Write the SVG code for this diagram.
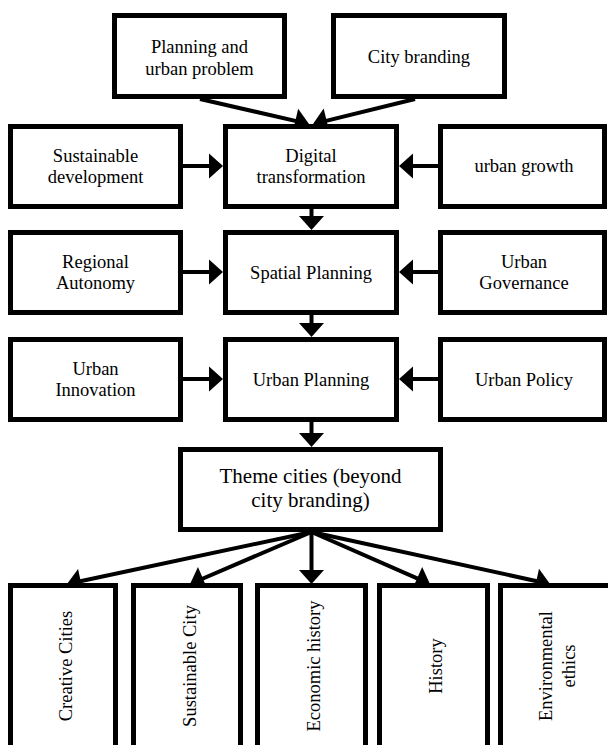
<svg xmlns="http://www.w3.org/2000/svg" width="608" height="745" viewBox="0 0 608 745">
<style>
.box{fill:#fff;stroke:#000;stroke-width:5}
.t{font-family:"Liberation Serif","Times New Roman",serif;font-size:18.5px;fill:#000;text-anchor:middle}
.tb{font-family:"Liberation Serif","Times New Roman",serif;font-size:21px;fill:#000;text-anchor:middle}
.c{stroke:#000;stroke-width:4;fill:none;marker-end:url(#ah)}
</style>
<defs>
<marker id="ah" markerUnits="userSpaceOnUse" markerWidth="14" markerHeight="25" refX="10" refY="12.5" orient="auto" overflow="visible">
<path d="M0,0 L14,12.5 L0,25 z" fill="#000"/>
</marker>
</defs>
<rect width="608" height="745" fill="#fff"/>
<g id="connectors">
<line class="c" x1="200" y1="99" x2="305.1" y2="123.1"/>
<line class="c" x1="415" y1="99" x2="316.9" y2="123.1"/>
<line class="c" x1="183" y1="166" x2="219" y2="166"/>
<line class="c" x1="438" y1="166" x2="403" y2="166"/>
<line class="c" x1="311.5" y1="209" x2="311.5" y2="226"/>
<line class="c" x1="183" y1="272" x2="219" y2="272"/>
<line class="c" x1="438" y1="272" x2="403" y2="272"/>
<line class="c" x1="311.5" y1="315" x2="311.5" y2="333"/>
<line class="c" x1="183" y1="379" x2="219" y2="379"/>
<line class="c" x1="438" y1="379" x2="403" y2="379"/>
<line class="c" x1="311.5" y1="422" x2="311.5" y2="443"/>
<line class="c" x1="311.5" y1="532" x2="70.9" y2="583.2"/>
<line class="c" x1="311.5" y1="532" x2="193.7" y2="582.5"/>
<line class="c" x1="311.5" y1="532" x2="311.5" y2="580"/>
<line class="c" x1="311.5" y1="532" x2="426.3" y2="582.4"/>
<line class="c" x1="311.5" y1="532" x2="546.1" y2="583.2"/>
</g>
<g id="planning-urban-problem"><rect class="box" x="114.5" y="15.5" width="170" height="81"/>
<text class="t" x="199.5" y="53">Planning and</text><text class="t" x="199.5" y="75">urban problem</text></g>
<g id="city-branding"><rect class="box" x="333.5" y="15.5" width="171" height="81"/>
<text class="t" x="419" y="63">City branding</text></g>
<g id="sustainable-development"><rect class="box" x="10.5" y="126.5" width="170" height="80"/>
<text class="t" x="95.5" y="162">Sustainable</text><text class="t" x="95.5" y="183">development</text></g>
<g id="digital-transformation"><rect class="box" x="225.5" y="126.5" width="171" height="80"/>
<text class="t" x="311" y="162">Digital</text><text class="t" x="311" y="183">transformation</text></g>
<g id="urban-growth"><rect class="box" x="440.5" y="126.5" width="164" height="80"/>
<text class="t" x="524" y="172">urban growth</text></g>
<g id="regional-autonomy"><rect class="box" x="10.5" y="232.5" width="170" height="80"/>
<text class="t" x="95.5" y="268">Regional</text><text class="t" x="95.5" y="289">Autonomy</text></g>
<g id="spatial-planning"><rect class="box" x="225.5" y="232.5" width="171" height="80"/>
<text class="t" x="311" y="279">Spatial Planning</text></g>
<g id="urban-governance"><rect class="box" x="440.5" y="232.5" width="164" height="80"/>
<text class="t" x="524" y="268">Urban</text><text class="t" x="524" y="289">Governance</text></g>
<g id="urban-innovation"><rect class="box" x="10.5" y="339.5" width="170" height="80"/>
<text class="t" x="95.5" y="375">Urban</text><text class="t" x="95.5" y="396">Innovation</text></g>
<g id="urban-planning"><rect class="box" x="225.5" y="339.5" width="171" height="80"/>
<text class="t" x="311" y="386">Urban Planning</text></g>
<g id="urban-policy"><rect class="box" x="440.5" y="339.5" width="164" height="80"/>
<text class="t" x="524" y="386">Urban Policy</text></g>
<g id="theme-cities"><rect class="box" x="180.5" y="449.5" width="260" height="80"/>
<text class="tb" x="310.5" y="483">Theme cities (beyond</text><text class="tb" x="310.5" y="507">city branding)</text></g>
<g id="creative-cities"><rect class="box" x="10.5" y="585.5" width="105" height="200"/>
<text class="t" transform="translate(71.5,666) rotate(-90)">Creative Cities</text></g>
<g id="sustainable-city"><rect class="box" x="133.5" y="585.5" width="107" height="200"/>
<text class="t" transform="translate(195.5,666) rotate(-90)">Sustainable City</text></g>
<g id="economic-history"><rect class="box" x="257.5" y="585.5" width="108" height="200"/>
<text class="t" transform="translate(320,666) rotate(-90)">Economic history</text></g>
<g id="history"><rect class="box" x="379.5" y="585.5" width="108" height="200"/>
<text class="t" transform="translate(442,666) rotate(-90)">History</text></g>
<g id="environmental-ethics"><rect class="box" x="500.5" y="585.5" width="120" height="200"/>
<text class="t" transform="translate(552,666) rotate(-90)">Environmental</text>
<text class="t" transform="translate(575,666) rotate(-90)">ethics</text></g>
</svg>
